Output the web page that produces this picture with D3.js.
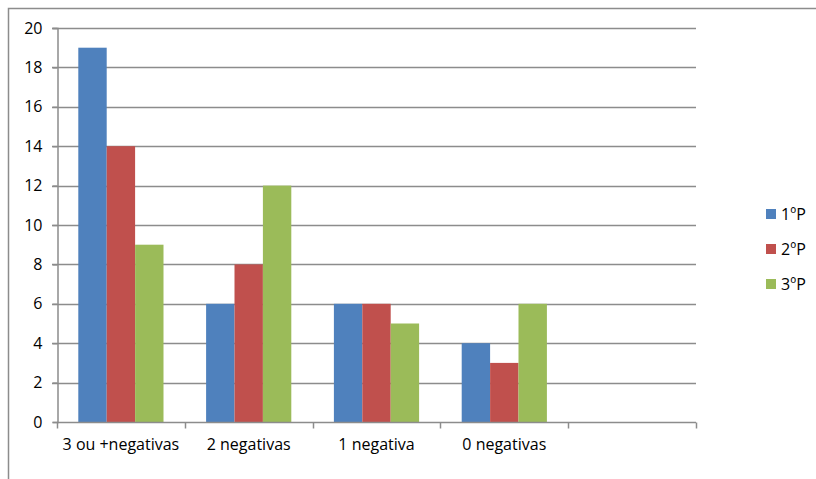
<!DOCTYPE html>
<html>
<head>
<meta charset="utf-8">
<script src="https://cdn.jsdelivr.net/npm/d3@7"></script>
<style>
  html, body { margin: 0; padding: 0; background: #fff; }
  svg { display: block; }
  text { font-family: "Open Sans", "Liberation Sans", sans-serif; fill: #000; }
</style>
</head>
<body>
<svg id="chart" width="816" height="479"></svg>
<script>
// Categories on the x axis (the last slot is empty)
const categories = ["3 ou +negativas", "2 negativas", "1 negativa", "0 negativas", ""];
// Series names and their counts per category
const seriesNames = ["1ºP", "2ºP", "3ºP"];
const values1P = [19, 6, 6, 4, null];
const values2P = [14, 8, 6, 3, null];
const values3P = [9, 12, 5, 6, null];
const yTicks = [0, 2, 4, 6, 8, 10, 12, 14, 16, 18, 20];
const colors = ["#4F81BD", "#C0504D", "#9BBB59"];

const seriesValues = [values1P, values2P, values3P];

const svg = d3.select("#chart");
const plot = { left: 57, right: 696, top: 28, bottom: 422 };
const fontSize = 16;

// Outer chart frame (left and top edges visible)
svg.append("path")
  .attr("d", `M8.5,479 L8.5,8.5 L816,8.5`)
  .attr("fill", "none").attr("stroke", "#8c8c8c").attr("stroke-width", 1.5);

const x = d3.scaleBand().domain(d3.range(categories.length))
  .range([plot.left, plot.right]).paddingInner(0).paddingOuter(0);
const y = d3.scaleLinear().domain([0, 20]).range([plot.bottom, plot.top]);

// Each group: 3 bars with 150% gap width
const inner = d3.scaleBand().domain(d3.range(seriesNames.length))
  .range([0, x.bandwidth()]).paddingInner(0).paddingOuter(0.75);

// Horizontal gridlines
svg.append("g").selectAll("line").data(yTicks.filter(d => d > 0)).join("line")
  .attr("x1", plot.left - 5).attr("x2", plot.right)
  .attr("y1", d => Math.round(y(d)) + 0.5).attr("y2", d => Math.round(y(d)) + 0.5)
  .attr("stroke", "#8c8c8c").attr("stroke-width", 1.5);

// Bars
seriesValues.forEach((vals, s) => {
  svg.append("g").selectAll("rect")
    .data(vals.map((v, i) => ({ v, i })).filter(d => d.v != null))
    .join("rect")
    .attr("x", d => x(d.i) + inner(s))
    .attr("width", inner.bandwidth())
    .attr("y", d => y(d.v))
    .attr("height", d => y(0) - y(d.v))
    .attr("fill", colors[s]);
});

// Y axis
const yAxis = d3.axisLeft(y).tickValues(yTicks).tickSize(5).tickPadding(10);
const gy = svg.append("g").attr("transform", `translate(${plot.left + 0.5},0)`).call(yAxis);
gy.select(".domain").attr("stroke", "#8c8c8c").attr("stroke-width", 1.5);
gy.selectAll(".tick line").attr("stroke", "#8c8c8c").attr("stroke-width", 1.5);
gy.selectAll(".tick text").attr("font-size", fontSize).attr("font-family", "Open Sans, sans-serif").attr("fill", "#000");

// X axis
const xAxis = d3.axisBottom(x).tickFormat(i => categories[i]).tickSize(0).tickPadding(16);
const gx = svg.append("g").attr("transform", `translate(0,${plot.bottom + 0.5})`).call(xAxis);
gx.select(".domain").attr("d", `M${plot.left},0H${plot.right}`).attr("stroke", "#8c8c8c").attr("stroke-width", 1.5);
gx.selectAll(".tick text").attr("font-size", fontSize).attr("font-family", "Open Sans, sans-serif").attr("fill", "#000");
// Category boundary ticks
gx.append("g").selectAll("line").data(d3.range(categories.length + 1)).join("line")
  .attr("x1", i => Math.round(plot.left + i * x.bandwidth()) + 0.5)
  .attr("x2", i => Math.round(plot.left + i * x.bandwidth()) + 0.5)
  .attr("y1", 0).attr("y2", 6)
  .attr("stroke", "#8c8c8c").attr("stroke-width", 1.5);

// Legend
const legend = svg.append("g").attr("transform", "translate(766,209)");
seriesNames.forEach((name, s) => {
  const g = legend.append("g").attr("transform", `translate(0,${s * 35})`);
  g.append("rect").attr("width", 10).attr("height", 10).attr("fill", colors[s]);
  g.append("text").attr("x", 15).attr("y", 5).attr("dy", "0.35em")
    .attr("font-size", fontSize).text(name);
});
</script>
</body>
</html>
